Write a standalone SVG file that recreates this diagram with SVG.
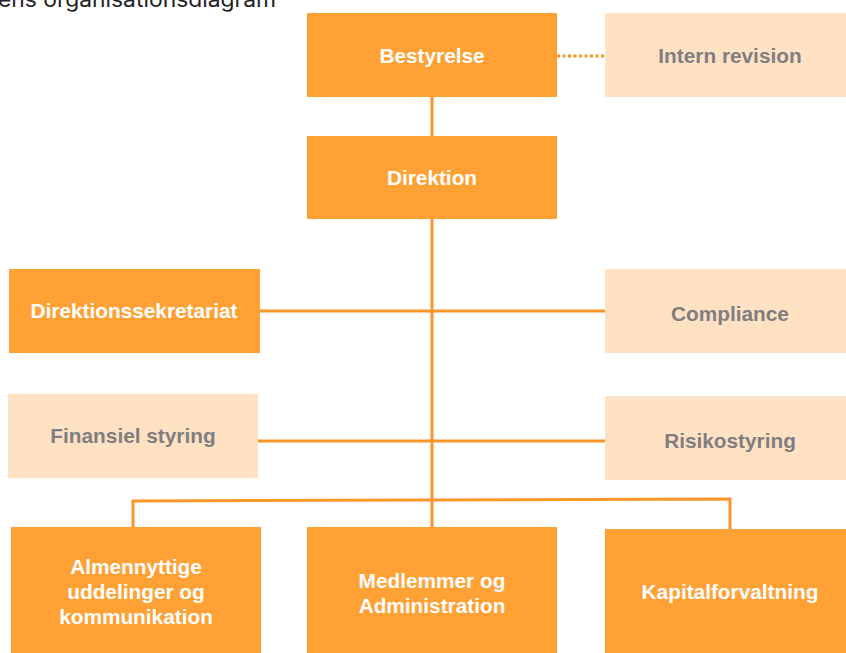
<svg xmlns="http://www.w3.org/2000/svg" width="846" height="653" viewBox="0 0 846 653">
<style>
.dark{fill:#FFA134}
.light{fill:#FFE1C4}
.t{font-family:"Liberation Sans",Arial,sans-serif;font-weight:bold;font-size:20.8px;text-anchor:middle}
.tw{fill:#FFFFFF}
.tg{fill:#7F7F7F}
.ln{stroke:#F8962A;stroke-width:3;fill:none}
</style>
<rect width="846" height="653" fill="#FFFFFF"/>
<text x="-2" y="7" font-family="Inter,'Open Sans',sans-serif" font-size="21" textLength="278" lengthAdjust="spacingAndGlyphs" fill="#222222">ens organisationsdiagram</text>
<g id="connectors">
<line class="ln" x1="557" y1="56" x2="605" y2="56" stroke-dasharray="3,2.5"/>
<line class="ln" x1="432" y1="97" x2="432" y2="136"/>
<line class="ln" x1="432" y1="219" x2="432" y2="527"/>
<line class="ln" x1="260" y1="311" x2="605" y2="311"/>
<line class="ln" x1="258" y1="441" x2="605" y2="441"/>
<polyline class="ln" points="133,527 133,501 730,499 730,529"/>
</g>
<g id="bestyrelse"><rect class="dark" x="307" y="13" width="250" height="84"/><text class="t tw" x="432" y="63">Bestyrelse</text></g>
<g id="intern-revision"><rect class="light" x="605" y="13" width="241" height="84"/><text class="t tg" x="730" y="63">Intern revision</text></g>
<g id="direktion"><rect class="dark" x="307" y="136" width="250" height="83"/><text class="t tw" x="432" y="185">Direktion</text></g>
<g id="direktionssekretariat"><rect class="dark" x="9" y="269" width="251" height="84"/><text class="t tw" x="134" y="318">Direktionssekretariat</text></g>
<g id="compliance"><rect class="light" x="605" y="269" width="241" height="84"/><text class="t tg" x="730" y="321">Compliance</text></g>
<g id="finansiel-styring"><rect class="light" x="8" y="394" width="250" height="84"/><text class="t tg" x="133" y="443">Finansiel styring</text></g>
<g id="risikostyring"><rect class="light" x="605" y="396" width="241" height="84"/><text class="t tg" x="730" y="448">Risikostyring</text></g>
<g id="almennyttige"><rect class="dark" x="11" y="527" width="250" height="126"/><text class="t tw" x="136" y="574">Almennyttige</text><text class="t tw" x="136" y="599">uddelinger og</text><text class="t tw" x="136" y="624">kommunikation</text></g>
<g id="medlemmer"><rect class="dark" x="307" y="527" width="250" height="126"/><text class="t tw" x="432" y="588">Medlemmer og</text><text class="t tw" x="432" y="613">Administration</text></g>
<g id="kapitalforvaltning"><rect class="dark" x="605" y="529" width="241" height="124"/><text class="t tw" x="730" y="599">Kapitalforvaltning</text></g>
</svg>
